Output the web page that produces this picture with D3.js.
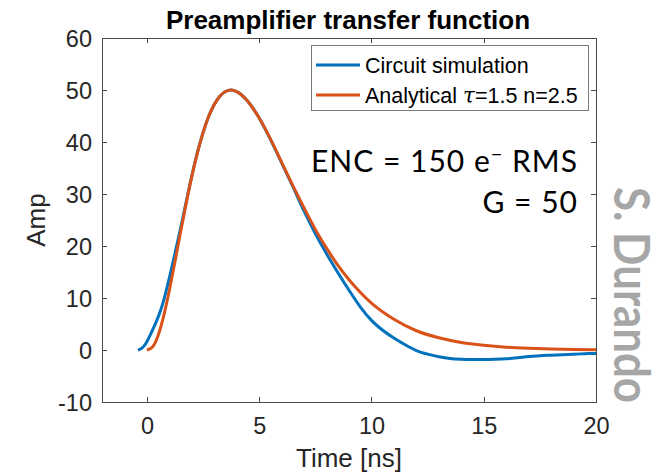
<!DOCTYPE html>
<html><head><meta charset="utf-8">
<script src="https://cdn.jsdelivr.net/npm/d3@7"></script>
<style>body{margin:0;background:#fff}svg{display:block}</style>
</head><body>
<svg id="c" width="668" height="473"></svg>
<script>
// ---- data ----
const title = "Preamplifier transfer function";
const xLabel = "Time [ns]";
const yLabel = "Amp";
const xTicks = [0, 5, 10, 15, 20];
const yTicks = [-10, 0, 10, 20, 30, 40, 50, 60];
const seriesNames = ["Circuit simulation", "Analytical"];

const simT = [-0.4,-0.3,-0.2,-0.1,0,0.15,0.3,0.45,0.6,0.75,0.9,1.05,1.25,1.5,1.75,2,2.25,2.5,2.75,3,3.25,3.5,3.75,4,4.5,5,5.5,6,6.5,7,7.5,8,8.5,9,9.5,10,10.5,11,11.5,12,12.5,13,13.5,14,14.5,15,15.5,16,16.5,17,17.5,18,18.5,19,19.5,20];
const simV = [0,0.15,0.45,0.95,1.6,2.9,4.3,5.8,7.5,9.6,12.1,14.8,18.6,23.4,28.5,33.5,38.0,41.8,44.9,47.2,48.8,49.7,50,49.7,47.8,44.6,40.5,36.0,31.4,26.7,22.4,18.5,14.9,11.5,8.3,5.7,3.8,2.3,1.0,-0.1,-0.8,-1.3,-1.65,-1.8,-1.85,-1.85,-1.8,-1.7,-1.5,-1.25,-1.1,-1.0,-0.9,-0.8,-0.72,-0.65];

const anaT = [0,0.25,0.5,0.75,1,1.25,1.5,1.75,2,2.25,2.5,2.75,3,3.25,3.5,3.75,4,4.5,5,5.5,6,6.5,7,7.5,8,8.5,9,9.5,10,11,12,13,14,15,16,17,18,19,20];
const anaV = [0,0.6,2.8,6.6,11.5,17.0,22.7,28.2,33.4,37.9,41.8,44.9,47.2,48.8,49.7,50,49.7,47.8,44.6,40.6,36.1,31.6,27.3,23.2,19.6,16.3,13.5,11.1,9.0,5.9,3.7,2.35,1.45,0.9,0.53,0.32,0.19,0.11,0.07];

// ---- layout ----
const svg = d3.select("#c");
const L = 102, R = 596, T = 38, B = 402;
const x = d3.scaleLinear().domain([-2, 20]).range([L, R]);
const y = d3.scaleLinear().domain([-10, 60]).range([B, T]);
const axisColor = "#262626";
const lineColor = "#4a4a4a";
const font = "'Liberation Sans', Arial, Helvetica, sans-serif";
const fmt = d => String(d); // plain hyphen minus like the reference

// axes
const tk = 5;
const gx = svg.append("g").attr("transform", `translate(0,${B})`)
  .call(d3.axisBottom(x).tickValues(xTicks).tickSizeInner(-tk).tickSizeOuter(0).tickPadding(15).tickFormat(fmt));
const gxt = svg.append("g").attr("transform", `translate(0,${T})`)
  .call(d3.axisTop(x).tickValues(xTicks).tickSizeInner(-tk).tickSizeOuter(0).tickFormat(""));
const gy = svg.append("g").attr("transform", `translate(${L},0)`)
  .call(d3.axisLeft(y).tickValues(yTicks).tickSizeInner(-tk).tickSizeOuter(0).tickPadding(10).tickFormat(fmt));
const gyr = svg.append("g").attr("transform", `translate(${R},0)`)
  .call(d3.axisRight(y).tickValues(yTicks).tickSizeInner(-tk).tickSizeOuter(0).tickFormat(""));
[gx, gxt, gy, gyr].forEach(g => {
  g.selectAll("path.domain").attr("stroke", lineColor).attr("shape-rendering", "crispEdges");
  g.selectAll(".tick line").attr("stroke", lineColor).attr("shape-rendering", "crispEdges");
  g.selectAll("text").attr("fill", axisColor).style("font-family", font).style("font-size", "23.5px");
});
gy.selectAll("text").attr("dy", "0.36em");
gx.selectAll("text").attr("dy", "0.71em");

// lines
const line = d3.line().x(d => x(d[0])).y(d => y(d[1])).curve(d3.curveMonotoneX);
const sim = simT.map((t, i) => [t, simV[i]]);
const ana = anaT.map((t, i) => [t, anaV[i]]);
svg.append("path").datum(sim).attr("d", line).attr("fill", "none")
  .attr("stroke", "#0072BD").attr("stroke-width", 3).attr("stroke-linejoin", "round");
svg.append("path").datum(ana).attr("d", line).attr("fill", "none")
  .attr("stroke", "#D95319").attr("stroke-width", 3).attr("stroke-linejoin", "round");

// title & labels
svg.append("text").attr("x", 348).attr("y", 29).attr("text-anchor", "middle")
  .style("font-family", font).style("font-size", "26px").style("font-weight", "bold")
  .attr("fill", "#000").text(title);
svg.append("text").attr("x", 349).attr("y", 467).attr("text-anchor", "middle")
  .style("font-family", font).style("font-size", "26px").attr("fill", axisColor).text(xLabel);
svg.append("text").attr("transform", "translate(45,220) rotate(-90)").attr("text-anchor", "middle")
  .style("font-family", font).style("font-size", "26px").attr("fill", axisColor).text(yLabel);

// legend
const lg = svg.append("g");
lg.append("rect").attr("x", 311.5).attr("y", 45.5).attr("width", 277).attr("height", 65)
  .attr("fill", "#fff").attr("stroke", "#7a7a7a").attr("stroke-width", 1);
const colors = ["#0072BD", "#D95319"];
[65, 95].forEach((yy, i) => {
  lg.append("line").attr("x1", 316).attr("x2", 360).attr("y1", yy).attr("y2", yy)
    .attr("stroke", colors[i]).attr("stroke-width", 3);
});
lg.append("text").attr("x", 365).attr("y", 65).attr("dy", "0.36em")
  .style("font-family", font).style("font-size", "21.5px").attr("fill", "#000").text(seriesNames[0]);
const t2 = lg.append("text").attr("x", 365).attr("y", 95).attr("dy", "0.36em")
  .style("font-family", font).style("font-size", "21.5px").attr("fill", "#000");
t2.append("tspan").text(seriesNames[1] + " ");
t2.append("tspan").style("font-family", "'DejaVu Serif', 'Liberation Serif', serif").style("font-style", "italic").text("τ");
t2.append("tspan").text("=1.5 n=2.5");

// annotations
const aFont = "Lato, 'Open Sans', 'Noto Sans', sans-serif";
const enc = svg.append("text").attr("x", 578).attr("y", 172).attr("text-anchor", "end")
  .style("font-family", aFont).style("font-size", "30px").style("letter-spacing", "1px").attr("fill", "#000");
enc.append("tspan").text("ENC = 150 e");
enc.append("tspan").text("\u2212").attr("dy", "-11").style("font-size", "20px");
enc.append("tspan").text(" RMS").attr("dy", "11");
svg.append("text").attr("x", 578).attr("y", 213).attr("text-anchor", "end")
  .style("font-family", aFont).style("font-size", "30px").style("letter-spacing", "1px").attr("fill", "#000").text("G = 50");

svg.append("text").attr("transform", "translate(614,295) rotate(90)").attr("text-anchor", "middle")
  .attr("textLength", 216).attr("lengthAdjust", "spacingAndGlyphs")
  .style("font-family", "Lato, 'Open Sans', sans-serif").style("font-size", "50px").style("font-weight", "bold")
  .attr("fill", "#a6a6a6").text("S. Durando");
</script>
</body></html>
